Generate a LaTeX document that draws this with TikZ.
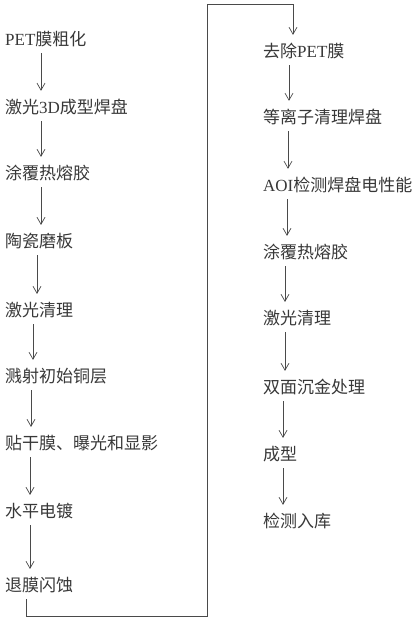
\documentclass[tikz,border=0pt]{standalone}
\usepackage{fontspec}
\setmainfont{Liberation Serif}
\newfontfamily\cjk{Noto Sans CJK SC}
\newfontfamily\latin{Liberation Serif}
\usetikzlibrary{arrows.meta}

\definecolor{txtgray}{HTML}{383838}
\definecolor{linegray}{HTML}{4A4A4A}
\tikzset{
  stage/.style={anchor=west,inner sep=0pt,text=txtgray,font=\cjk\fontsize{17}{19}\selectfont},
  flow/.style={draw=linegray,line width=0.7pt,-{Straight Barb[length=7pt,width=8pt]},shorten <=6pt,shorten >=8pt}
}

\begin{document}
\begin{tikzpicture}[x=1pt,y=-1pt]
\useasboundingbox (0,0) rectangle (418,622);

% left column
\node[stage] (pet) at (5,39) {{\latin PET}膜粗化};
\node[stage] (laser3d) at (5,107) {激光{\latin 3D}成型焊盘};
\node[stage] (glueA) at (5,173) {涂覆热熔胶};
\node[stage] (grind) at (5,241) {陶瓷磨板};
\node[stage] (cleanA) at (5,310) {激光清理};
\node[stage] (sputter) at (5,376) {溅射初始铜层};
\node[stage] (dryfilm) at (5,443) {贴干膜、曝光和显影};
\node[stage] (plate) at (5,511) {水平电镀};
\node[stage] (etch) at (5,585) {退膜闪蚀};

% right column
\node[stage] (removepet) at (263,51) {去除{\latin PET}膜};
\node[stage] (plasma) at (263,117) {等离子清理焊盘};
\node[stage] (aoi) at (263,185) {{\latin AOI}检测焊盘电性能};
\node[stage] (glueB) at (263,252) {涂覆热熔胶};
\node[stage] (cleanB) at (263,318) {激光清理};
\node[stage] (gold) at (263,387) {双面沉金处理};
\node[stage] (form) at (263,454) {成型};
\node[stage] (store) at (263,521) {检测入库};

\draw[flow] (pet.south -| 41,0) -- (laser3d.north -| 41,0);
\draw[flow] (laser3d.south -| 41,0) -- (glueA.north -| 41,0);
\draw[flow] (glueA.south -| 41,0) -- (grind.north -| 41,0);
\draw[flow] (grind.south -| 37,0) -- (cleanA.north -| 37,0);
\draw[flow] (cleanA.south -| 33,0) -- (sputter.north -| 33,0);
\draw[flow] (sputter.south -| 31,0) -- (dryfilm.north -| 31,0);
\draw[flow] (dryfilm.south -| 30,0) -- (plate.north -| 30,0);
\draw[flow] (plate.south -| 30,0) -- (etch.north -| 30,0);

% return path to the second column
\coordinate (lowturn) at (207,616);
\coordinate (highturn) at (207,4);
\draw[flow] (etch.south -| 26,0) |- (lowturn) -- (highturn) -| (removepet.north -| 293,0);

\draw[flow] (removepet.south -| 289,0) -- (plasma.north -| 289,0);
\draw[flow] (plasma.south -| 288,0) -- (aoi.north -| 288,0);
\draw[flow] (aoi.south -| 287,0) -- (glueB.north -| 287,0);
\draw[flow] (glueB.south -| 285,0) -- (cleanB.north -| 285,0);
\draw[flow] (cleanB.south -| 285,0) -- (gold.north -| 285,0);
\draw[flow] (gold.south -| 283,0) -- (form.north -| 283,0);
\draw[flow] (form.south -| 283,0) -- (store.north -| 283,0);
\end{tikzpicture}
\end{document}
